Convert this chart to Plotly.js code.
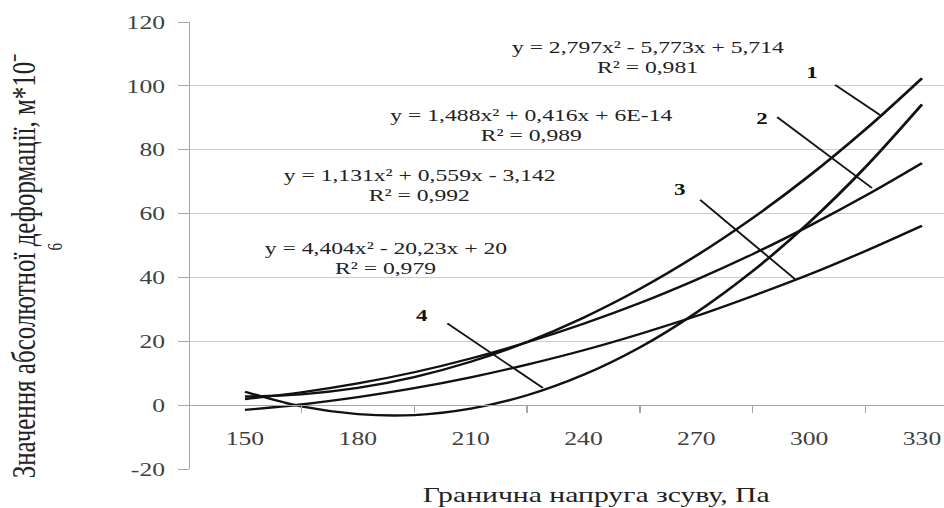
<!DOCTYPE html>
<html>
<head>
<meta charset="utf-8">
<script src="https://cdn.plot.ly/plotly-3.0.1.min.js"></script>
<style>
  html, body { margin: 0; padding: 0; background: #ffffff; overflow: hidden; }
  #chart { width: 699px; height: 508px; }
</style>
</head>
<body>
<div id="chart"></div>
<script>
// Shear stress, Pa (x) and absolute deformation values (y)
const stress = [150, 165, 180, 195, 210, 225, 240, 255, 270, 285, 300, 315, 330];
const curve1 = [2.7, 3.4, 5.4, 8.8, 13.6, 19.8, 27.4, 36.4, 46.8, 58.6, 71.8, 86.4, 102.4];
const curve2 = [1.9, 4.0, 6.8, 10.3, 14.6, 19.7, 25.5, 32.0, 39.3, 47.3, 56.1, 65.6, 75.8];
const curve3 = [-1.5, 0.2, 2.5, 5.3, 8.7, 12.7, 17.2, 22.3, 27.9, 34.2, 40.9, 48.3, 56.2];
const curve4 = [4.2, -0.4, -2.8, -3.1, -1.1, 3.1, 9.5, 18.1, 29.0, 42.0, 57.2, 74.6, 94.2];

const xTickVals = [150, 180, 210, 240, 270, 300, 330];
const xMinorTicks = [165, 195, 225, 255, 285, 315];
const yTickVals = [-20, 0, 20, 40, 60, 80, 100, 120];

const equations = [
  {eq: 'y = 2,797x² - 5,773x + 5,714', r2: 'R² = 0,981', x: 257.2, y: 112.2, yr: 106.0},
  {eq: 'y = 1,488x² + 0,416x + 6E-14', r2: 'R² = 0,989', x: 226.0, y: 90.9, yr: 84.6},
  {eq: 'y = 1,131x² + 0,559x - 3,142', r2: 'R² = 0,992', x: 196.3, y: 72.1, yr: 65.8},
  {eq: 'y = 4,404x² - 20,23x + 20', r2: 'R² = 0,979', x: 187.5, y: 49.2, yr: 43.0}
];

const curveLabels = [
  {t: '1', x: 300.8, y: 104.3, lx0: 306.9, ly0: 100.3, lx1: 318.8, ly1: 90.9},
  {t: '2', x: 287.5, y: 89.9, lx0: 291.5, ly0: 90.2, lx1: 316.7, ly1: 68.0},
  {t: '3', x: 265.7, y: 67.4, lx0: 271.0, ly0: 64.3, lx1: 296.2, ly1: 39.5},
  {t: '4', x: 197.0, y: 28.0, lx0: 203.8, ly0: 25.6, lx1: 229.2, ly1: 5.4}
];

const serif = 'Liberation Serif, Times New Roman, serif';
const lineStyle = {color: '#111111', width: 2.3, shape: 'spline', smoothing: 1};

const traces = [curve1, curve2, curve3, curve4].map((ys, i) => ({
  type: 'scatter', mode: 'lines', x: stress, y: ys, name: String(i + 1),
  line: lineStyle, hoverinfo: 'skip'
}));

const annotations = [];
equations.forEach(e => {
  annotations.push({xref: 'x', yref: 'y', x: e.x, y: e.y, text: e.eq, showarrow: false,
    xanchor: 'center', yanchor: 'middle', font: {family: serif, size: 17.5, color: '#222222'}});
  annotations.push({xref: 'x', yref: 'y', x: e.x, y: e.yr, text: e.r2, showarrow: false,
    xanchor: 'center', yanchor: 'middle', font: {family: serif, size: 17.5, color: '#222222'}});
});
curveLabels.forEach(c => {
  annotations.push({xref: 'x', yref: 'y', x: c.x, y: c.y, text: '<b>' + c.t + '</b>', showarrow: false,
    xanchor: 'center', yanchor: 'middle', font: {family: serif, size: 17, color: '#111111'}});
});
// axis titles
annotations.push({xref: 'paper', yref: 'paper', x: 0.538, y: -0.058, text: 'Гранична напруга зсуву, Па',
  showarrow: false, xanchor: 'center', yanchor: 'middle', font: {family: serif, size: 22, color: '#222222'}});
annotations.push({xref: 'paper', yref: 'paper', x: -0.222, y: 0.454,
  text: 'Значення абсолютної деформації, м*10⁻', textangle: -90,
  showarrow: false, xanchor: 'center', yanchor: 'middle', font: {family: serif, size: 25, color: '#222222'}});
annotations.push({xref: 'paper', yref: 'paper', x: -0.18, y: 0.497, text: '6', textangle: -90,
  showarrow: false, xanchor: 'center', yanchor: 'middle', font: {family: serif, size: 15, color: '#222222'}});

const shapes = curveLabels.map(c => ({
  type: 'line', xref: 'x', yref: 'y', x0: c.lx0, y0: c.ly0, x1: c.lx1, y1: c.ly1,
  line: {color: '#111111', width: 1.6}
}));

const layout = {
  width: 699, height: 508,
  margin: {l: 141, r: 0, t: 22, b: 39},
  paper_bgcolor: '#ffffff', plot_bgcolor: '#ffffff',
  showlegend: false,
  font: {family: serif},
  xaxis: {
    range: [135.5, 335.85], anchor: 'free', position: 1 / 7,
    tickmode: 'array', tickvals: xTickVals, ticktext: xTickVals.map(String),
    ticks: '', showgrid: false, zeroline: false,
    showline: true, linecolor: '#a6a6a6', linewidth: 1,
    ticklabelstandoff: 16,
    tickfont: {family: serif, size: 19, color: '#404040'},
    minor: {tickmode: 'array', tickvals: xMinorTicks, ticks: 'outside', ticklen: 7, tickcolor: '#a6a6a6', tickwidth: 1, showgrid: false}
  },
  yaxis: {
    range: [-20, 120], tickmode: 'array', tickvals: yTickVals, ticktext: yTickVals.map(String),
    showgrid: true, gridcolor: '#cccccc', gridwidth: 1, zeroline: false,
    showline: true, linecolor: '#a6a6a6', linewidth: 1,
    ticks: 'outside', ticklen: 8, tickcolor: '#a6a6a6', tickwidth: 1,
    ticklabelstandoff: 6,
    tickfont: {family: serif, size: 19, color: '#404040'}
  },
  annotations: annotations,
  shapes: shapes
};

// The reference picture is stretched horizontally; stretch the SVG the same way.
const W = 699, H = 508, OUT_W = 944;
Plotly.newPlot('chart', traces, layout, {displayModeBar: false, staticPlot: true}).then(gd => {
  gd.style.width = OUT_W + 'px';
  const cont = gd.querySelector('.svg-container');
  if (cont) cont.style.width = OUT_W + 'px';
  gd.querySelectorAll('svg.main-svg').forEach(svg => {
    svg.setAttribute('viewBox', '0 0 ' + W + ' ' + H);
    svg.setAttribute('preserveAspectRatio', 'none');
    svg.setAttribute('width', OUT_W);
    svg.style.width = OUT_W + 'px';
  });
});
</script>
</body>
</html>
